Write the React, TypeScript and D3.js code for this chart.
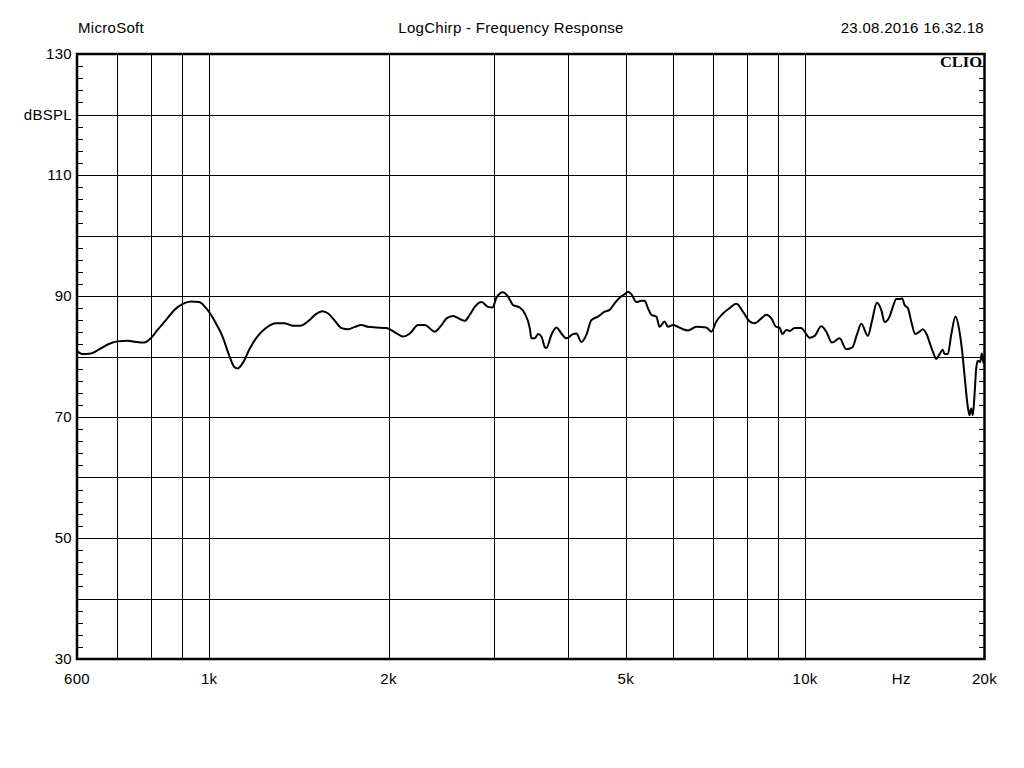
import React from "react";
import * as d3 from "d3";

// Frequency response (Hz, dB SPL)
const freqs: number[] = [
  600, 613, 633, 654, 680, 702, 730, 754, 778, 798, 819, 846, 874, 903, 932, 962, 988, 1007, 1026, 1053,
  1080, 1101, 1116, 1138, 1167, 1198, 1245, 1294, 1336, 1380, 1425, 1472, 1510, 1550, 1584, 1625, 1668, 1711,
  1756, 1802, 1848, 1909, 1984, 2049, 2115, 2171, 2242, 2300, 2391, 2454, 2502, 2566, 2633, 2685, 2737, 2790,
  2864, 2937, 2988, 3034, 3112, 3173, 3235, 3320, 3385, 3451, 3473, 3518, 3563, 3610, 3656, 3680, 3752, 3825,
  3900, 3976, 4078, 4132, 4213, 4295, 4379, 4492, 4609, 4699, 4791, 4884, 4980, 5043, 5110, 5210, 5311, 5379,
  5448, 5520, 5628, 5700, 5811, 5886, 6002, 6119, 6238, 6360, 6570, 6828, 6961, 7097, 7280, 7471, 7667, 7865,
  8071, 8228, 8444, 8608, 8776, 8947, 9062, 9157, 9300, 9419, 9603, 9855, 9981, 10175, 10374, 10646, 10854,
  11091, 11426, 11725, 12000, 12215, 12424, 12745, 12943, 13196, 13422, 13594, 13859, 14037, 14222, 14405,
  14556, 14686, 14874, 15070, 15305, 15561, 15761, 16006, 16218, 16425, 16597, 16810, 17026, 17138, 17358,
  17587, 17882, 18160, 18350, 18514, 18751, 18874, 18999, 19117, 19242, 19369, 19489, 19670, 19792, 19923, 20000,
];
const levels: number[] = [
  80.9, 80.4, 80.5, 81.2, 82.1, 82.5, 82.6, 82.4, 82.3, 83.0, 84.4, 86.0, 87.7, 88.7, 89.1, 89.0, 88.0, 86.9, 85.5, 83.3,
  80.2, 78.3, 78.0, 78.9, 81.1, 83.0, 84.7, 85.5, 85.5, 85.1, 85.1, 86.0, 87.0, 87.5, 87.1, 85.9, 84.7, 84.5,
  84.9, 85.2, 84.9, 84.8, 84.7, 84.0, 83.3, 83.8, 85.2, 85.2, 84.1, 85.2, 86.3, 86.7, 86.2, 85.9, 86.9, 88.2,
  89.0, 88.2, 88.1, 89.7, 90.6, 89.9, 88.5, 88.1, 87.1, 84.7, 83.0, 83.0, 83.7, 83.3, 81.6, 81.4, 83.6, 84.8,
  83.8, 83.0, 83.7, 83.8, 82.4, 83.6, 86.0, 86.6, 87.4, 87.7, 88.8, 89.7, 90.3, 90.7, 90.3, 89.0, 89.2, 89.2,
  88.0, 86.9, 86.6, 84.9, 85.8, 84.9, 85.2, 84.9, 84.5, 84.3, 84.9, 84.8, 84.1, 85.8, 87.1, 88.0, 88.7, 87.4,
  85.8, 85.5, 86.3, 86.9, 86.3, 84.9, 84.8, 83.7, 84.4, 84.2, 84.7, 84.7, 84.1, 83.1, 83.4, 85.0, 84.1,
  82.3, 83.0, 81.2, 81.5, 83.6, 85.4, 83.4, 85.8, 88.9, 87.7, 85.7, 86.6, 88.2, 89.5, 89.5,
  89.6, 88.5, 88.0, 85.8, 83.7, 84.1, 84.5, 83.6, 82.0, 80.5, 79.6, 80.4, 81.1, 80.4, 80.4,
  83.6, 86.6, 84.1, 80.8, 76.9, 71.7, 70.3, 71.4, 70.3, 73.6, 78.0, 79.3, 79.1, 80.5, 78.9, 80.2,
];

const xGrid: number[] = [700, 800, 900, 1000, 2000, 3000, 4000, 5000, 6000, 7000, 8000, 9000, 10000];
const yGrid: number[] = [40, 50, 60, 70, 80, 90, 100, 110, 120];
const yLabels: { v: number; t: string }[] = [
  { v: 130, t: "130" },
  { v: 120, t: "dBSPL" },
  { v: 110, t: "110" },
  { v: 90, t: "90" },
  { v: 70, t: "70" },
  { v: 50, t: "50" },
  { v: 30, t: "30" },
];
const xLabels: { v: number; t: string }[] = [
  { v: 600, t: "600" },
  { v: 1000, t: "1k" },
  { v: 2000, t: "2k" },
  { v: 5000, t: "5k" },
  { v: 10000, t: "10k" },
  { v: 14500, t: "Hz" },
  { v: 20000, t: "20k" },
];
const minorTicks: number[] = d3.range(32, 130, 2);

export default function App() {
  const left = 77, right = 984.5, top = 54, bottom = 659;
  const x = d3.scaleLog().domain([600, 20000]).range([left, right]);
  const y = d3.scaleLinear().domain([30, 130]).range([bottom, top]);
  const pts = freqs.map((f, i) => [f, levels[i]] as [number, number]);
  const line = d3
    .line<[number, number]>()
    .x((d) => x(d[0]))
    .y((d) => y(d[1]))
    .curve(d3.curveMonotoneX);
  const font = "'Liberation Sans', Arial, sans-serif";
  const r = (v: number) => Math.round(v) + 0.5;

  return (
    <svg
      width={1024}
      height={768}
      style={{ position: "absolute", left: 0, top: 0, background: "#fff" }}
      fontFamily={font}
    >
      <rect x={0} y={0} width={1024} height={768} fill="#fff" />
      {/* header */}
      <g fontSize={15} letterSpacing={0.3} fill="#000">
        <text x={111} y={33} textAnchor="middle">MicroSoft</text>
        <text x={511} y={33} textAnchor="middle">LogChirp - Frequency Response</text>
        <text x={984} y={33} textAnchor="end">23.08.2016 16.32.18</text>
      </g>
      {/* grid */}
      <g stroke="#000" strokeWidth={1} shapeRendering="crispEdges">
        {xGrid.map((f) => (
          <line key={"vx" + f} x1={r(x(f))} x2={r(x(f))} y1={top} y2={bottom} />
        ))}
        {yGrid.map((v) => (
          <line key={"hy" + v} x1={left} x2={right} y1={r(y(v))} y2={r(y(v))} />
        ))}
        {minorTicks.map((v) => (
          <line key={"tl" + v} x1={left} x2={left + 6} y1={r(y(v))} y2={r(y(v))} />
        ))}
        {minorTicks.map((v) => (
          <line key={"tr" + v} x1={right - 6} x2={right} y1={r(y(v))} y2={r(y(v))} />
        ))}
      </g>
      {/* frame */}
      <rect
        x={left}
        y={top}
        width={right - left}
        height={bottom - top}
        fill="none"
        stroke="#000"
        strokeWidth={2.5}
      />
      {/* curve */}
      <path d={line(pts) || ""} fill="none" stroke="#000" strokeWidth={2} strokeLinejoin="round" />
      {/* CLIO */}
      <text
        x={940}
        y={67}
        fontFamily="'Liberation Serif', 'Times New Roman', serif"
        fontWeight="bold"
        fontSize={15}
        textLength={42}
        lengthAdjust="spacingAndGlyphs"
        fill="#000"
      >
        CLIO
      </text>
      {/* y labels */}
      <g fontSize={15} letterSpacing={0.3} fill="#000">
        {yLabels.map((d) => (
          <text key={"yl" + d.v} x={72} y={y(d.v) + 5} textAnchor="end">
            {d.t}
          </text>
        ))}
        {xLabels.map((d) => (
          <text key={"xl" + d.v} x={x(d.v)} y={684} textAnchor="middle">
            {d.t}
          </text>
        ))}
      </g>
    </svg>
  );
}
